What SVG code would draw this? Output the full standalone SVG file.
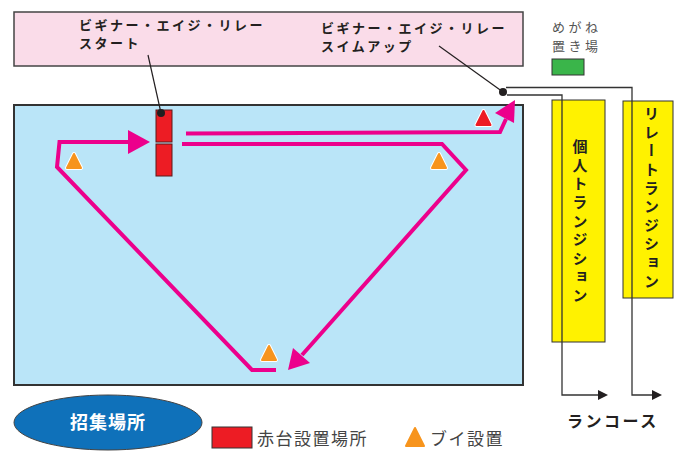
<svg xmlns="http://www.w3.org/2000/svg" xmlns:xlink="http://www.w3.org/1999/xlink" width="679" height="451" viewBox="0 0 679 451">
<style>
text{font-family:"Noto Sans CJK JP","Noto Sans",sans-serif}
.lbl{font-size:13px;font-weight:bold;fill:#231f20;letter-spacing:2.5px}
.vt{font-size:15px;font-weight:bold;fill:#231f20;writing-mode:vertical-rl;letter-spacing:3.6px}
.gray{font-size:13px;fill:#555;letter-spacing:3.5px}
.leg{font-size:17px;fill:#444;letter-spacing:1.5px}
.course{fill:none;stroke:#EC008C;stroke-width:4}
.head{fill:#EC008C}
.conn{fill:none;stroke:#333;stroke-width:1.3}
.ahead{fill:#231f20}
.lead{fill:none;stroke:#231f20;stroke-width:1.2}
.red{fill:#ED1C24;stroke:#5a1a1a;stroke-width:1}
.yel{fill:#FFF200;stroke:#333;stroke-width:1}
</style>
<defs>
<g id="buoy"><path d="M0,-7 L7,7 L-7,7 Z" fill="#fff" stroke="#fff" stroke-width="4" stroke-linejoin="round"/><path d="M0,-7 L7,7 L-7,7 Z" fill="#F7941D" stroke="#F7941D" stroke-width="2" stroke-linejoin="round"/></g>
<g id="redmark"><path d="M0,-7 L7,7 L-7,7 Z" fill="#fff" stroke="#fff" stroke-width="4" stroke-linejoin="round"/><path d="M0,-7 L7,7 L-7,7 Z" fill="#ED1C24" stroke="#ED1C24" stroke-width="2" stroke-linejoin="round"/></g>
</defs>
<rect width="679" height="451" fill="#fff"/>
<g id="banner">
<rect x="14" y="12" width="509" height="54" fill="#FADCE9" stroke="#444" stroke-width="1.5"/>
</g>
<g id="label-start">
<text class="lbl" x="79" y="30">ビギナー・エイジ・リレー</text>
<text class="lbl" x="79" y="48">スタート</text>
</g>
<g id="label-swimup">
<text class="lbl" x="321" y="33">ビギナー・エイジ・リレー</text>
<text class="lbl" x="321" y="51">スイムアップ</text>
</g>
<g id="pool">
<rect x="14" y="105" width="509" height="280" fill="#BAE5F8" stroke="#333" stroke-width="2"/>
</g>
<g id="glasses">
<text class="gray" x="552" y="32">めがね</text>
<text class="gray" x="552" y="50.5">置き場</text>
<rect x="552" y="59" width="32" height="16" fill="#3AB54A" stroke="#333" stroke-width="1"/>
</g>
<g id="start-blocks">
<rect class="red" x="156" y="110" width="16" height="32"/>
<rect class="red" x="156" y="144" width="16" height="32"/>
</g>
<g id="buoys">
<use xlink:href="#buoy" x="74" y="161"/>
<use xlink:href="#buoy" x="439" y="161"/>
<use xlink:href="#buoy" x="269" y="353"/>
<use xlink:href="#redmark" x="483.5" y="118"/>
</g>
<g id="transition-individual">
<rect class="yel" x="552" y="100" width="53" height="242"/>
<text class="vt" x="580" y="139">個人トランジション</text>
</g>
<g id="transition-relay">
<rect class="yel" x="623" y="101" width="50" height="197"/>
<text class="vt" x="651.5" y="106">リレートランジション</text>
</g>
<g id="assembly">
<ellipse cx="108" cy="422.5" rx="94" ry="27.5" fill="#0F71BA" stroke="#444" stroke-width="1"/>
<text x="108" y="429" text-anchor="middle" font-size="18" font-weight="bold" fill="#fff" letter-spacing="1">招集場所</text>
</g>
<g id="legend-red">
<rect x="212" y="427" width="40" height="21" fill="#ED1C24" stroke="#333" stroke-width="1"/>
<text class="leg" x="257" y="445">赤台設置場所</text>
</g>
<g id="legend-buoy">
<path d="M415,428 L424,446 L406,446 Z" fill="#F7941D" stroke="#F7941D" stroke-width="2" stroke-linejoin="round"/>
<text class="leg" x="430" y="445">ブイ設置</text>
</g>
<g id="run-course">
<text x="567" y="427" font-size="16" font-weight="bold" fill="#231f20" letter-spacing="2.5">ランコース</text>
</g>
<g id="connectors">
<path class="course" d="M276,370 L252,370 L57,167 L59.5,142 L130,142"/>
<polygon class="head" points="128,130 150,142 128,154"/>
<path class="course" d="M186,133.5 L500,132 L506,119"/>
<polygon class="head" points="495,113 515,100 514,123"/>
<path class="course" d="M182,144 L442,144 L466,170 L302,355"/>
<polygon class="head" points="288,370 293,348 310,363"/>
<path class="lead" d="M148,55 L161,113"/>
<circle cx="161" cy="113" r="4" fill="#231f20"/>
<path class="lead" d="M439,46 L503,92"/>
<circle cx="503" cy="92" r="4" fill="#231f20"/>
<path class="conn" d="M506,87.5 L632,87.5 L632,395 L652,395"/>
<polygon class="ahead" points="652,390 662,395 652,400"/>
<path class="conn" d="M507,95 L562,95 L562,395 L598,395"/>
<polygon class="ahead" points="598,390 608,395 598,400"/>
</g>
</svg>
